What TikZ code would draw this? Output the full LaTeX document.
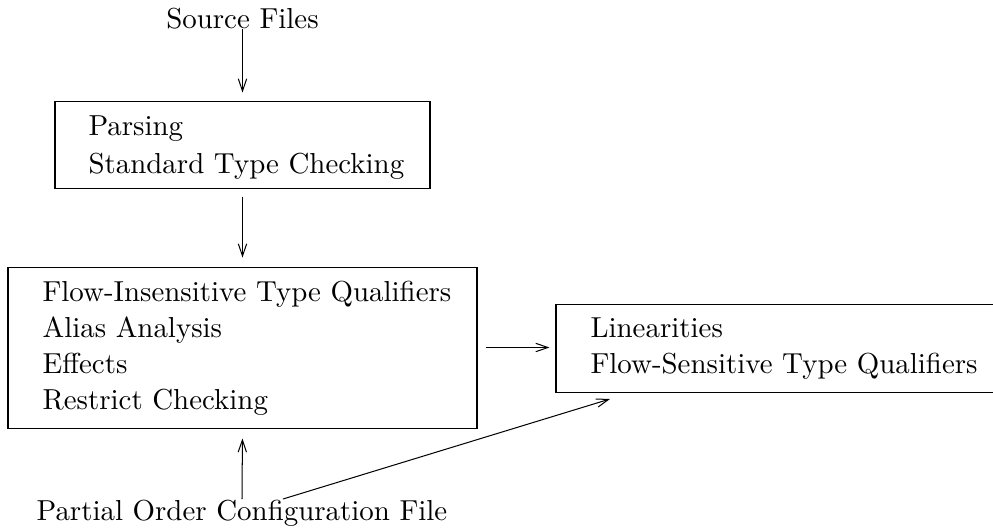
\documentclass[tikz,border=0pt]{standalone}
\usetikzlibrary{arrows.meta}
\begin{document}
\begin{tikzpicture}[x=0.346pt,y=-0.346pt,
  every node/.style={font=\fontsize{10}{12}\selectfont},
  txt/.style={inner sep=0pt,anchor=base west},
  boxnode/.style={draw,rectangle,inner sep=0pt,line width=0.35pt},
  arr/.style={-{Straight Barb[length=4.2pt,width=2.9pt,line width=0.35pt]},line width=0.35pt}]
\useasboundingbox (0,0) rectangle (993,529);
% boxes
\node[boxnode,minimum width={375*0.346pt},minimum height={87*0.346pt}] (b1) at (242.5,144.5) {};
\node[boxnode,minimum width={469*0.346pt},minimum height={161*0.346pt}] (b2) at (242.5,347.5) {};
\node[boxnode,minimum width={449*0.346pt},minimum height={88*0.346pt}] (b3) at (780.5,348) {};
% texts
\node[inner sep=0pt,anchor=base] (src) at (242.5,28) {Source Files};
\node[txt] (t11) at (88,135.5) {Parsing};
\node[txt] (t12) at (88,173) {Standard Type Checking};
\node[txt] (t21) at (42,301) {Flow-Insensitive Type Qualifiers};
\node[txt] (t22) at (42,337) {Alias Analysis};
\node[txt] (t23) at (42,373) {Effects};
\node[txt] (t24) at (42,409) {Restrict Checking};
\node[txt] (t31) at (590,337) {Linearities};
\node[txt] (t32) at (590,373) {Flow-Sensitive Type Qualifiers};
\node[inner sep=0pt,anchor=base] (poc) at (242,520) {Partial Order Configuration File};
% connectors
\coordinate (dstart) at (283,499);
\coordinate (dend) at (610,399);
\draw[arr,shorten >=8*0.346pt] (src.south) -- (b1.north);
\draw[arr,shorten <=8*0.346pt,shorten >=9*0.346pt] (b1.south) -- (b2.north);
\draw[arr,shorten >=10*0.346pt] (poc.north) -- (b2.south);
\draw[arr,shorten <=8*0.346pt,shorten >=6*0.346pt] (b2.east) -- (b2.east -| b3.west);
\draw[arr] (dstart) -- (dend);
\end{tikzpicture}
\end{document}
